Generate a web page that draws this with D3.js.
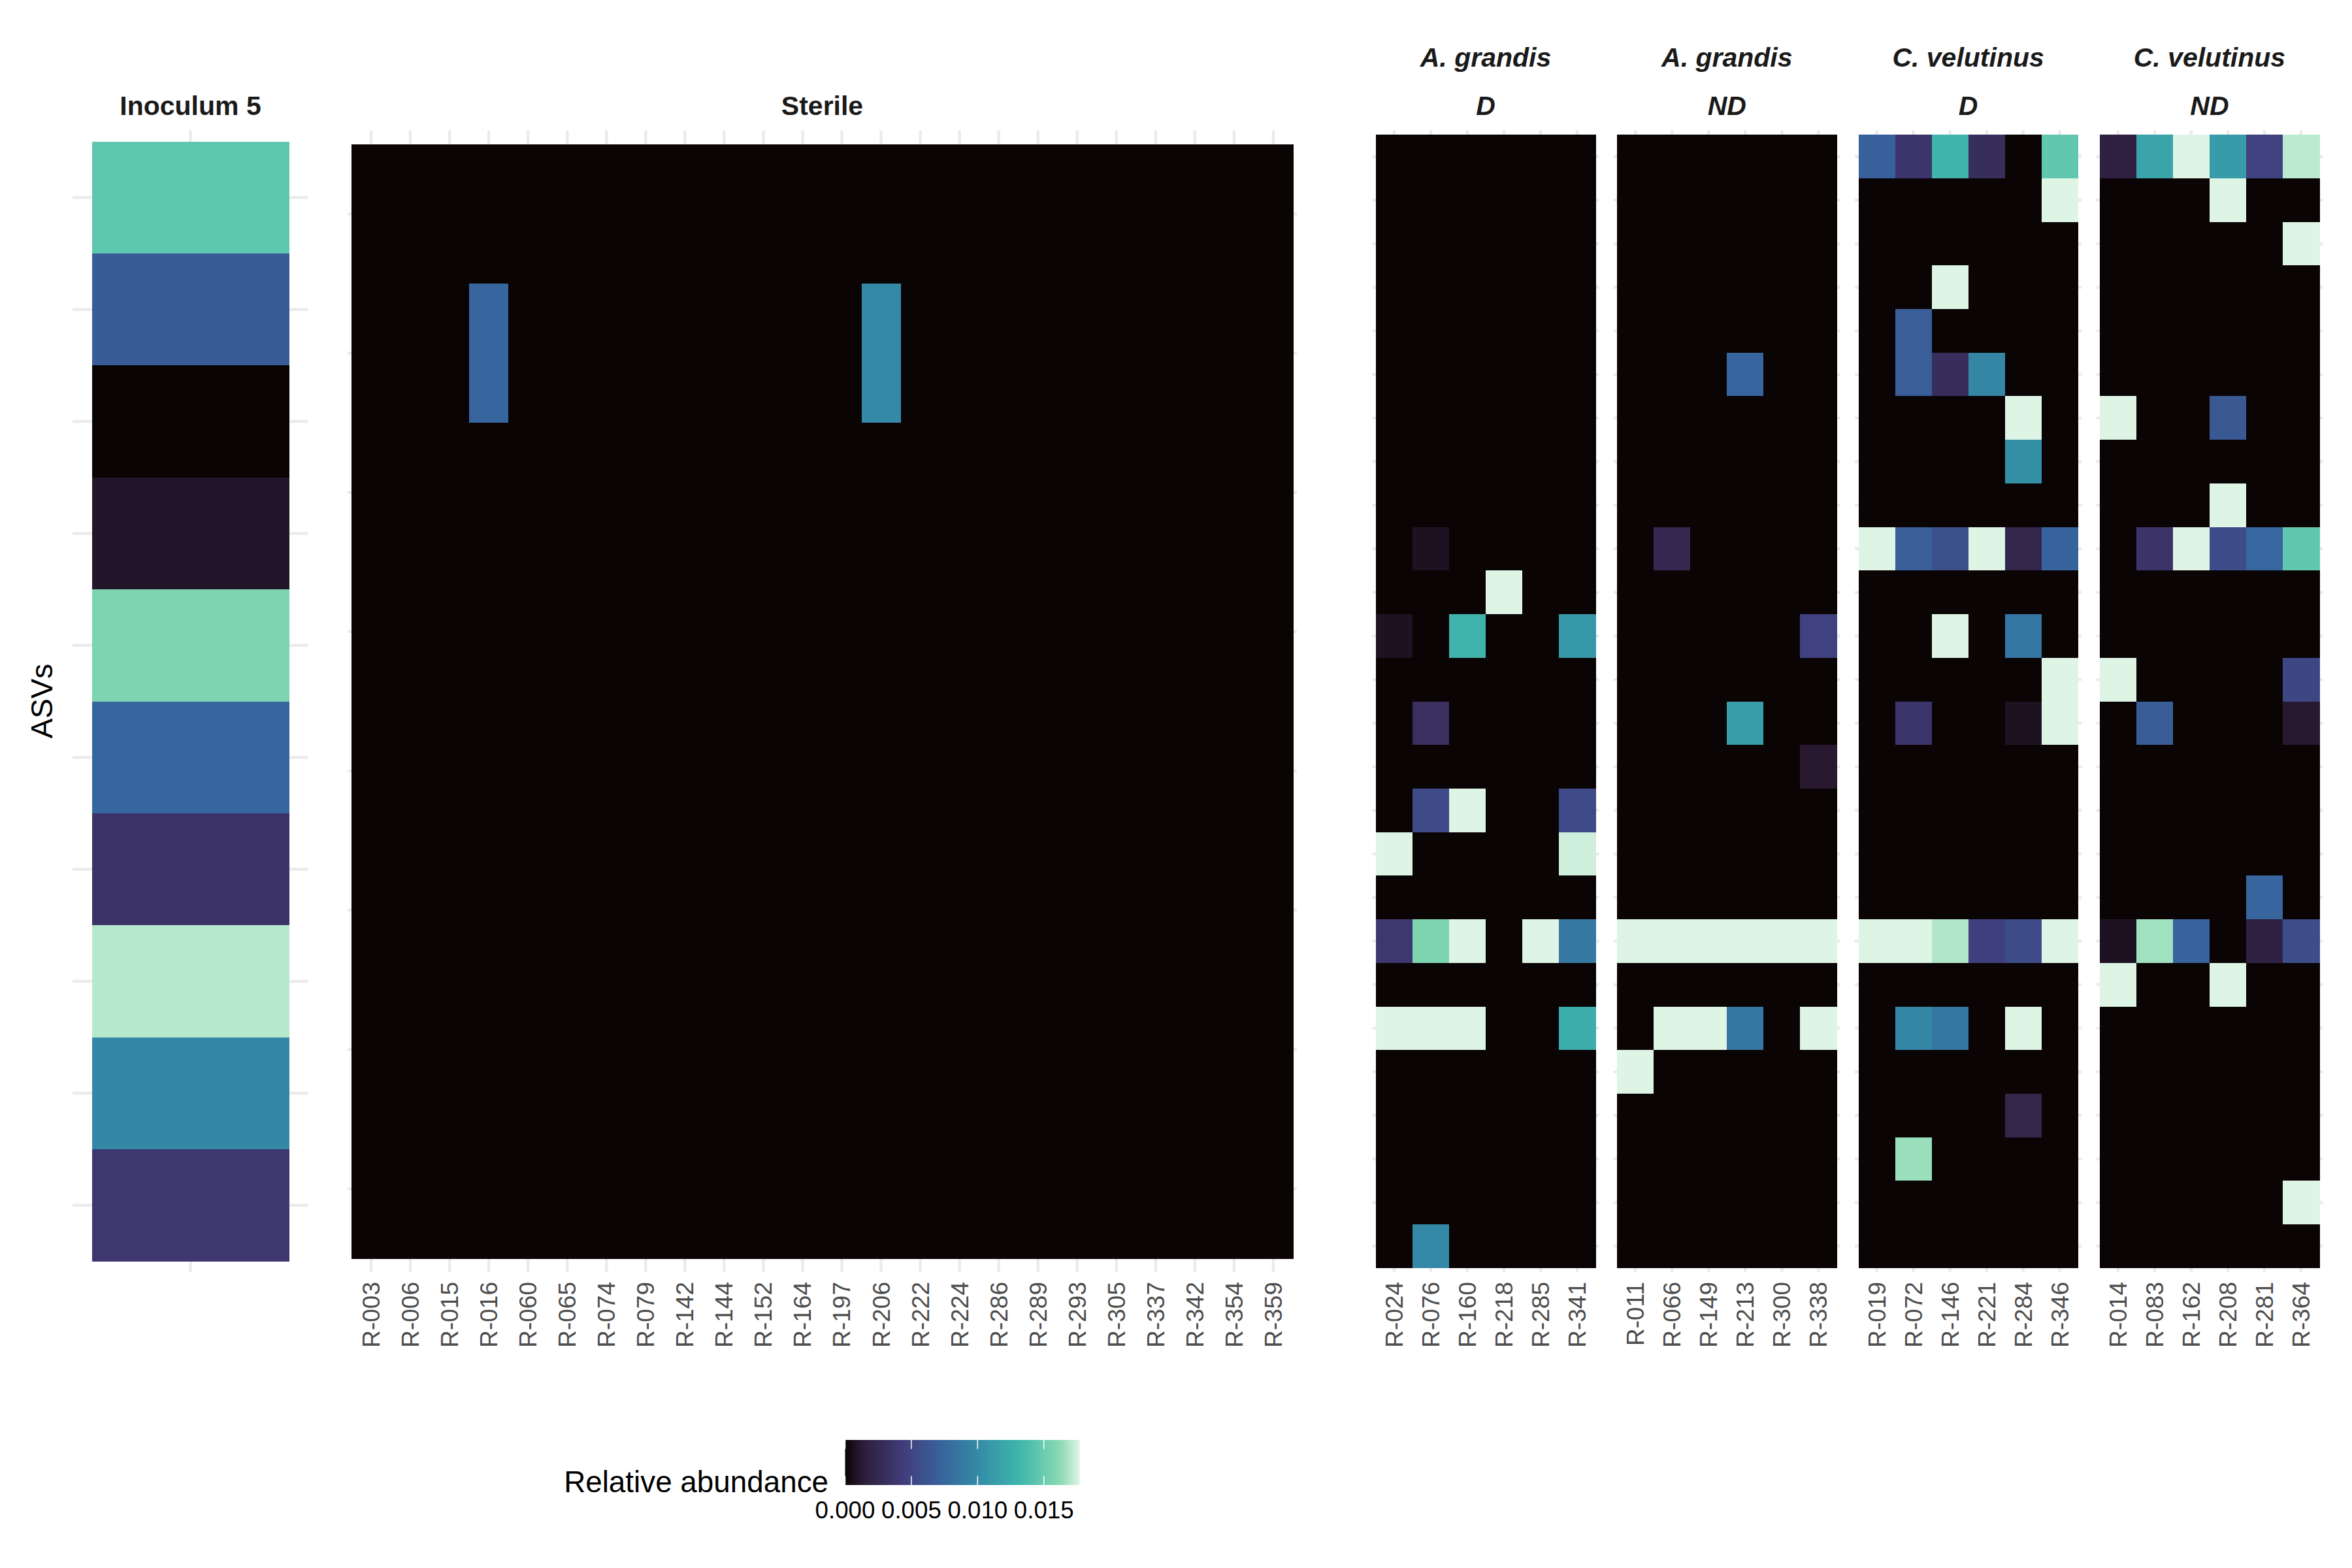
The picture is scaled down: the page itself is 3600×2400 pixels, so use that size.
<!DOCTYPE html>
<html>
<head>
<meta charset="utf-8">
<script src="https://cdn.jsdelivr.net/npm/d3@7"></script>
<style>
  body { margin: 0; background: #fff; }
  svg text { font-family: "Liberation Sans", Arial, Helvetica, sans-serif; }
</style>
</head>
<body>
<svg id="chart" width="3600" height="2400"></svg>
<script>
// ---- data (relative abundance) ----
var maxAbundance = 0.0177;

var inoculumValues = [0.0145, 0.0067, 0, 0.0010, 0.0157, 0.0074, 0.0035, 0.0170, 0.0098, 0.0039];

var sterileSamples = ['R-003','R-006','R-015','R-016','R-060','R-065','R-074','R-079','R-142','R-144','R-152','R-164',
                      'R-197','R-206','R-222','R-224','R-286','R-289','R-293','R-305','R-337','R-342','R-354','R-359'];
var sterileValues = [
  [0,0,0,0,0,0,0,0,0,0,0,0,0,0,0,0,0,0,0,0,0,0,0,0],
  [0,0,0,0.0074,0,0,0,0,0,0,0,0,0,0.0099,0,0,0,0,0,0,0,0,0,0],
  [0,0,0,0,0,0,0,0,0,0,0,0,0,0,0,0,0,0,0,0,0,0,0,0],
  [0,0,0,0,0,0,0,0,0,0,0,0,0,0,0,0,0,0,0,0,0,0,0,0],
  [0,0,0,0,0,0,0,0,0,0,0,0,0,0,0,0,0,0,0,0,0,0,0,0],
  [0,0,0,0,0,0,0,0,0,0,0,0,0,0,0,0,0,0,0,0,0,0,0,0],
  [0,0,0,0,0,0,0,0,0,0,0,0,0,0,0,0,0,0,0,0,0,0,0,0],
  [0,0,0,0,0,0,0,0,0,0,0,0,0,0,0,0,0,0,0,0,0,0,0,0]
];

var agD_samples = ['R-024','R-076','R-160','R-218','R-285','R-341'];
var agD_values = [
  [0,0,0,0,0,0],
  [0,0,0,0,0,0],
  [0,0,0,0,0,0],
  [0,0,0,0,0,0],
  [0,0,0,0,0,0],
  [0,0,0,0,0,0],
  [0,0,0,0,0,0],
  [0,0,0,0,0,0],
  [0,0,0,0,0,0],
  [0,0.0008,0,0,0,0],
  [0,0,0,0.0177,0,0],
  [0.0008,0,0.0130,0,0,0.0109],
  [0,0,0,0,0,0],
  [0,0.0032,0,0,0,0],
  [0,0,0,0,0,0],
  [0,0.0054,0.0177,0,0,0.0054],
  [0.0177,0,0,0,0,0.0174],
  [0,0,0,0,0,0],
  [0.0039,0.0157,0.0177,0,0.0177,0.0087],
  [0,0,0,0,0,0],
  [0.0177,0.0177,0.0177,0,0,0.0125],
  [0,0,0,0,0,0],
  [0,0,0,0,0,0],
  [0,0,0,0,0,0],
  [0,0,0,0,0,0],
  [0,0.0099,0,0,0,0]
];

var agND_samples = ['R-011','R-066','R-149','R-213','R-300','R-338'];
var agND_values = [
  [0,0,0,0,0,0],
  [0,0,0,0,0,0],
  [0,0,0,0,0,0],
  [0,0,0,0,0,0],
  [0,0,0,0,0,0],
  [0,0,0,0.0074,0,0],
  [0,0,0,0,0,0],
  [0,0,0,0,0,0],
  [0,0,0,0,0,0],
  [0,0.0025,0,0,0,0],
  [0,0,0,0,0,0],
  [0,0,0,0,0,0.0048],
  [0,0,0,0,0,0],
  [0,0,0,0.0113,0,0],
  [0,0,0,0,0,0.0012],
  [0,0,0,0,0,0],
  [0,0,0,0,0,0],
  [0,0,0,0,0,0],
  [0.0177,0.0177,0.0177,0.0177,0.0177,0.0177],
  [0,0,0,0,0,0],
  [0,0.0177,0.0177,0.0086,0,0.0177],
  [0.0177,0,0,0,0,0],
  [0,0,0,0,0,0],
  [0,0,0,0,0,0],
  [0,0,0,0,0,0],
  [0,0,0,0,0,0]
];

var cvD_samples = ['R-019','R-072','R-146','R-221','R-284','R-346'];
var cvD_values = [
  [0.0071,0.0037,0.0130,0.0030,0,0.0146],
  [0,0,0,0,0,0.0177],
  [0,0,0,0,0,0],
  [0,0,0.0177,0,0,0],
  [0,0.0069,0,0,0,0],
  [0,0.0069,0.0030,0.0097,0,0],
  [0,0,0,0,0.0177,0],
  [0,0,0,0,0.0104,0],
  [0,0,0,0,0,0],
  [0.0177,0.0069,0.0058,0.0177,0.0022,0.0073],
  [0,0,0,0,0,0],
  [0,0,0.0177,0,0.0086,0],
  [0,0,0,0,0,0.0177],
  [0,0.0037,0,0,0.0008,0.0177],
  [0,0,0,0,0,0],
  [0,0,0,0,0,0],
  [0,0,0,0,0,0],
  [0,0,0,0,0,0],
  [0.0177,0.0177,0.0169,0.0046,0.0055,0.0177],
  [0,0,0,0,0,0],
  [0,0.0097,0.0086,0,0.0177,0],
  [0,0,0,0,0,0],
  [0,0,0,0,0.0022,0],
  [0,0.0165,0,0,0,0],
  [0,0,0,0,0,0],
  [0,0,0,0,0,0]
];

var cvND_samples = ['R-014','R-083','R-162','R-208','R-281','R-364'];
var cvND_values = [
  [0.0018,0.0119,0.0177,0.0112,0.0048,0.0171],
  [0,0,0,0.0177,0,0],
  [0,0,0,0,0,0.0177],
  [0,0,0,0,0,0],
  [0,0,0,0,0,0],
  [0,0,0,0,0,0],
  [0.0177,0,0,0.0064,0,0],
  [0,0,0,0,0,0],
  [0,0,0,0.0177,0,0],
  [0,0.0036,0.0177,0.0055,0.0075,0.0146],
  [0,0,0,0,0,0],
  [0,0,0,0,0,0],
  [0.0177,0,0,0,0,0.0052],
  [0,0.0068,0,0,0,0.0012],
  [0,0,0,0,0,0],
  [0,0,0,0,0,0],
  [0,0,0,0,0,0],
  [0,0,0,0,0.0074,0],
  [0.0008,0.0166,0.0072,0,0.0018,0.0056],
  [0.0177,0,0,0.0177,0,0],
  [0,0,0,0,0,0],
  [0,0,0,0,0,0],
  [0,0,0,0,0,0],
  [0,0,0,0,0,0],
  [0,0,0,0,0,0.0177],
  [0,0,0,0,0,0]
];

var legendTicks = [0, 0.005, 0.010, 0.015];

// mako palette stops
var makoStops = [0, 0.083, 0.25, 0.417, 0.583, 0.75, 0.917, 1];
var makoColors = ['#0B0405', '#2E1E3B', '#413D7B', '#37659E', '#348FA7', '#40B7AD', '#8BDAB2', '#DEF5E5'];

// ---- setup ----
var svg = d3.select('#chart');
var color = d3.scaleLinear()
  .domain(makoStops.map(function(t) { return t * maxAbundance; }))
  .range(makoColors)
  .interpolate(d3.interpolateRgb)
  .clamp(true);

var panelTop = 199.5, panelBottom = 1947.5;
var gridColor = '#EBEBEB';

// panel layout
var panels = [
  {strip: ['Inoculum 5'], italic: false, samples: ['Inoculum 5'], values: inoculumValues.map(function(v) { return [v]; }), x0: 111, x1: 472, labels: false},
  {strip: ['Sterile'], italic: false, samples: sterileSamples, values: sterileValues, x0: 532, x1: 1985, labels: true},
  {strip: ['A. grandis', 'D'], italic: true, samples: agD_samples, values: agD_values, x0: 2100.4, x1: 2447.6, labels: true},
  {strip: ['A. grandis', 'ND'], italic: true, samples: agND_samples, values: agND_values, x0: 2469.7, x1: 2816.9, labels: true},
  {strip: ['C. velutinus', 'D'], italic: true, samples: cvD_samples, values: cvD_values, x0: 2839.0, x1: 3186.2, labels: true},
  {strip: ['C. velutinus', 'ND'], italic: true, samples: cvND_samples, values: cvND_values, x0: 3208.3, x1: 3555.5, labels: true}
];

panels.forEach(function(p) {
  var g = svg.append('g');
  var rows = d3.range(p.values.length);
  var x = d3.scaleBand().domain(p.samples).range([p.x0, p.x1]).paddingInner(0).paddingOuter(0.1);
  var y = d3.scaleBand().domain(rows).range([panelTop, panelBottom]).paddingInner(0).paddingOuter(0.1);

  // grid lines
  g.selectAll('.hgrid').data(rows).enter().append('line')
    .attr('x1', p.x0).attr('x2', p.x1)
    .attr('y1', function(r) { return y(r) + y.bandwidth() / 2; })
    .attr('y2', function(r) { return y(r) + y.bandwidth() / 2; })
    .attr('stroke', gridColor).attr('stroke-width', 4.4);
  g.selectAll('.vgrid').data(p.samples).enter().append('line')
    .attr('y1', panelTop).attr('y2', panelBottom)
    .attr('x1', function(s) { return x(s) + x.bandwidth() / 2; })
    .attr('x2', function(s) { return x(s) + x.bandwidth() / 2; })
    .attr('stroke', gridColor).attr('stroke-width', 4.4);

  // tiles
  var cells = [];
  p.values.forEach(function(row, r) {
    row.forEach(function(v, c) { cells.push({r: r, s: p.samples[c], v: v}); });
  });
  g.selectAll('rect').data(cells).enter().append('rect')
    .attr('x', function(d) { return x(d.s); })
    .attr('y', function(d) { return y(d.r); })
    .attr('width', x.bandwidth() + 0.6)
    .attr('height', y.bandwidth() + 0.6)
    .attr('shape-rendering', 'crispEdges')
    .attr('fill', function(d) { return color(d.v); });

  // strip labels
  var cx = (p.x0 + p.x1) / 2;
  var stripY = p.strip.length === 1 ? [161] : [87, 161];
  p.strip.forEach(function(t, i) {
    g.append('text')
      .attr('x', cx).attr('y', stripY[i]).attr('dy', '0.36em')
      .attr('text-anchor', 'middle')
      .attr('font-size', 41).attr('font-weight', 'bold')
      .attr('font-style', p.italic ? 'italic' : 'normal')
      .attr('fill', '#1A1A1A')
      .text(t);
  });

  // x labels
  if (p.labels) {
    g.selectAll('.xlab').data(p.samples).enter().append('text')
      .attr('transform', function(s) { return 'translate(' + (x(s) + x.bandwidth() / 2) + ',1962) rotate(-90)'; })
      .attr('dy', '0.35em')
      .attr('text-anchor', 'end')
      .attr('font-size', 37)
      .attr('fill', '#4D4D4D')
      .text(function(s) { return s; });
  }
});

// y axis title
svg.append('text')
  .attr('transform', 'translate(64,1073) rotate(-90)')
  .attr('dy', '0.35em')
  .attr('text-anchor', 'middle')
  .attr('font-size', 45.8)
  .attr('fill', '#000')
  .text('ASVs');

// ---- legend ----
var lx = d3.scaleLinear().domain([0, maxAbundance]).range([1293.5, 1652.5]);
var barTop = 2204, barH = 69;
var grad = svg.append('defs').append('linearGradient').attr('id', 'mako-grad');
grad.selectAll('stop').data(d3.range(0, 1.0001, 0.02)).enter().append('stop')
  .attr('offset', function(t) { return (t * 100) + '%'; })
  .attr('stop-color', function(t) { return color(t * maxAbundance); });

svg.append('rect')
  .attr('x', lx(0)).attr('y', barTop)
  .attr('width', lx(maxAbundance) - lx(0)).attr('height', barH)
  .attr('fill', 'url(#mako-grad)');

svg.selectAll('.ltick-top').data(legendTicks).enter().append('line')
  .attr('x1', function(d) { return lx(d); }).attr('x2', function(d) { return lx(d); })
  .attr('y1', barTop).attr('y2', barTop + barH / 5)
  .attr('stroke', '#fff').attr('stroke-width', 1.5);
svg.selectAll('.ltick-bot').data(legendTicks).enter().append('line')
  .attr('x1', function(d) { return lx(d); }).attr('x2', function(d) { return lx(d); })
  .attr('y1', barTop + barH * 4 / 5).attr('y2', barTop + barH)
  .attr('stroke', '#fff').attr('stroke-width', 1.5);

svg.selectAll('.llab').data(legendTicks).enter().append('text')
  .attr('x', function(d) { return lx(d); })
  .attr('y', 2311).attr('dy', '0.35em')
  .attr('text-anchor', 'middle')
  .attr('font-size', 36.7)
  .attr('fill', '#000')
  .text(d3.format('.3f'));

svg.append('text')
  .attr('x', 1268).attr('y', 2268).attr('dy', '0.35em')
  .attr('text-anchor', 'end')
  .attr('font-size', 45.8)
  .attr('fill', '#000')
  .text('Relative abundance');
</script>
</body>
</html>
